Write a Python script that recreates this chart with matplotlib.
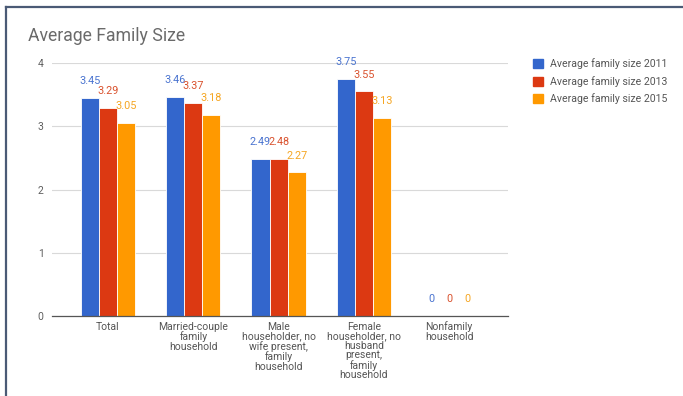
import numpy as np
import matplotlib.pyplot as plt
from matplotlib.lines import Line2D

plt.rcParams['font.family'] = ['Roboto', 'DejaVu Sans']

# Chart data
categories = ['Total',
              'Married-couple\nfamily\nhousehold',
              'Male\nhouseholder, no\nwife present,\nfamily\nhousehold',
              'Female\nhouseholder, no\nhusband\npresent,\nfamily\nhousehold',
              'Nonfamily\nhousehold']
series_names = ['Average family size 2011', 'Average family size 2013', 'Average family size 2015']
size_2011 = [3.45, 3.46, 2.49, 3.75, 0]
size_2013 = [3.29, 3.37, 2.48, 3.55, 0]
size_2015 = [3.05, 3.18, 2.27, 3.13, 0]
label_2011 = ['3.45', '3.46', '2.49', '3.75', '0']
label_2013 = ['3.29', '3.37', '2.48', '3.55', '0']
label_2015 = ['3.05', '3.18', '2.27', '3.13', '0']
y_ticks = [0, 1, 2, 3, 4]

colors = ['#3366cc', '#dc3912', '#ff9900']
text_colors = ['#4a74d0', '#d9522e', '#f5a623']

fig = plt.figure(figsize=(6.83, 3.96), dpi=100)
ax = fig.add_axes([52 / 683, 1 - 316 / 396, (508 - 52) / 683, (316 - 63) / 396])

x = np.arange(len(categories))
width = 0.212
all_values = [size_2011, size_2013, size_2015]
all_labels = [label_2011, label_2013, label_2015]

for i, (vals, labs) in enumerate(zip(all_values, all_labels)):
    pos = x + (i - 1) * width
    ax.bar(pos, vals, width=width, color=colors[i], edgecolor='white', linewidth=0.6,
           label=series_names[i], zorder=3)
    for px, v, lab in zip(pos, vals, labs):
        ax.annotate(lab, (px, v), xytext=(0, 8.5), textcoords='offset points',
                    ha='center', va='bottom', fontsize=7.8, color=text_colors[i])

ax.set_ylim(0, 4)
ax.set_xlim(-0.657, 4.69)
ax.set_yticks(y_ticks)
ax.set_yticklabels([str(t) for t in y_ticks])
ax.set_xticks(x)
ax.set_xticklabels(categories, fontsize=7.5, color='#555555', linespacing=0.95)
ax.tick_params(axis='y', length=0, pad=6, labelsize=7.5, labelcolor='#5f5f5f')
ax.tick_params(axis='x', length=0, pad=4)

ax.grid(axis='y', color='#d9d9d9', linewidth=0.8, zorder=0)
for s in ['top', 'right', 'left']:
    ax.spines[s].set_visible(False)
ax.spines['bottom'].set_color('#555555')
ax.spines['bottom'].set_linewidth(0.9)
ax.spines['bottom'].set_zorder(4)

# title
fig.text(28 / 683, 1 - 36 / 396, 'Average Family Size', fontsize=12.7, color='#6a6a6a',
         ha='left', va='center')

# legend
leg = fig.legend(handles=[plt.Rectangle((0, 0), 1, 1, color=c) for c in colors],
                 labels=series_names, loc='upper left',
                 bbox_to_anchor=(523 / 683, 1 - 49 / 396), frameon=False,
                 fontsize=7.6, handlelength=0.95, handleheight=0.95, handletextpad=0.75,
                 labelspacing=0.62, labelcolor='#555555')

# screenshot frame
fig.add_artist(Line2D([5.5 / 683, 5.5 / 683], [0, 1 - 6.5 / 396], color='#4a5a75', linewidth=1.6))
fig.add_artist(Line2D([5.5 / 683, 1], [1 - 6.5 / 396, 1 - 6.5 / 396], color='#4a5a75', linewidth=1.6))

fig.savefig('out.png', dpi=100)
